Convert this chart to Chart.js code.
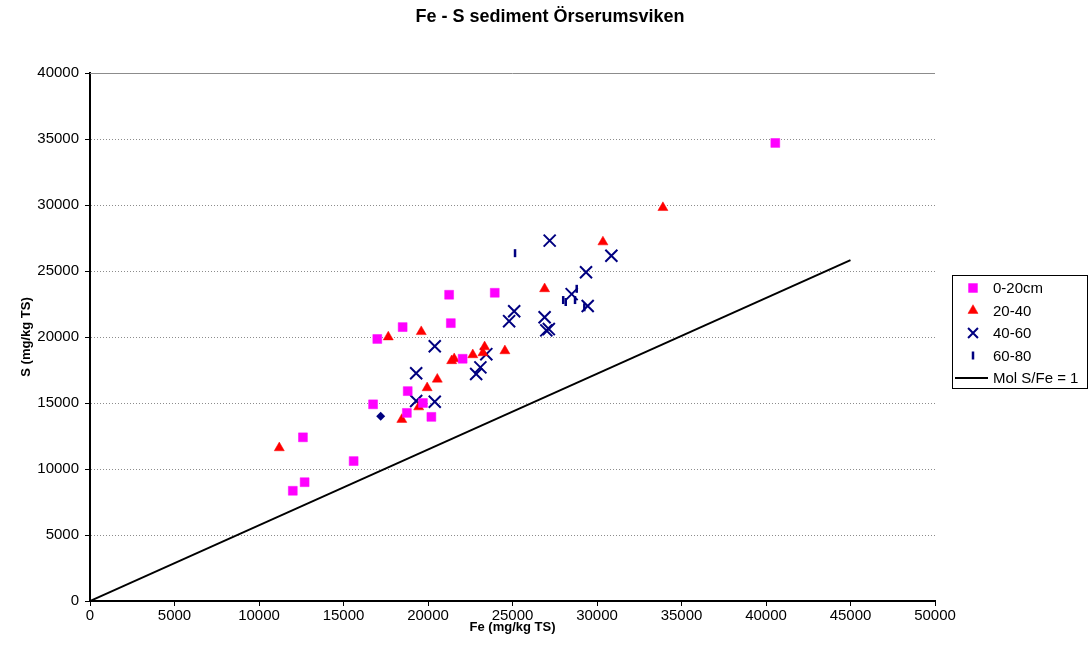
<!DOCTYPE html>
<html lang="sv">
<head>
  <meta charset="UTF-8" />
  <title>Fe - S sediment Örserumsviken</title>
  <style>
    body {
      margin: 0;
      background-color: white;
      overflow: hidden;
    }
    #chart {
      display: block;
    }
  </style>
</head>
<body>
  <canvas id="chart" width="1089" height="666"></canvas>

  <script src="https://cdn.jsdelivr.net/npm/chart.js"></script>
  <script>
    // values, mg/kg TS
    const fe0_20 = [12000, 12700, 12600, 15600, 16750, 17000, 18500, 18800, 18750, 19700, 20200, 21250, 21350, 22050, 23950, 40550];
    const s0_20  = [8350, 9000, 12400, 10600, 14900, 19850, 20750, 15900, 14250, 15000, 13950, 23200, 21050, 18350, 23350, 34700];

    const fe20_40 = [11200, 17650, 19600, 18450, 19450, 19950, 20550, 21400, 21550, 22650, 23350, 23250, 24550, 26900, 30350, 33900];
    const s20_40  = [11600, 20000, 20400, 13750, 14700, 16150, 16800, 18200, 18350, 18650, 19250, 18800, 18950, 23650, 27200, 29800];

    const fe40_60 = [27200, 30850, 29350, 28500, 29450, 25100, 24800, 26900, 27000, 27150, 20400, 23450, 23100, 22850, 19300, 19300, 20400];
    const s40_60  = [27300, 26150, 24900, 23250, 22350, 21950, 21200, 21500, 20500, 20600, 19300, 18700, 17700, 17200, 17250, 15150, 15100];

    const fe60_80 = [25150, 28000, 28150, 28700, 28800, 29250];
    const s60_80  = [26350, 22800, 22650, 22800, 23650, 22250];

    // one dark diamond that is not in the legend
    const feOther = [17200];
    const sOther  = [14000];

    // Mol S/Fe = 1 reference line
    const feMol = [0, 45000];
    const sMol  = [0, 25830];

    const pts = (xs, ys) => xs.map((x, i) => ({ x: x, y: ys[i] }));

    const FONT = "'Liberation Sans', Arial, sans-serif";

    const datasets = [
      {
        label: 'Mol S/Fe = 1',
        data: pts(feMol, sMol),
        showLine: true,
        pointRadius: 0,
        borderColor: '#000000',
        borderWidth: 2,
        fill: false
      },
      {
        label: '0-20cm',
        data: pts(fe0_20, s0_20),
        pointStyle: 'rect',
        pointRadius: 6.3,
        backgroundColor: '#FF00FF',
        borderColor: '#FF00FF',
        borderWidth: 0.5
      },
      {
        label: '20-40',
        data: pts(fe20_40, s20_40),
        pointStyle: 'triangle',
        pointRadius: 5.8,
        backgroundColor: '#FF0000',
        borderColor: '#FF0000',
        borderWidth: 0.5
      },
      {
        label: '40-60',
        data: pts(fe40_60, s40_60),
        pointStyle: 'crossRot',
        pointRadius: 8.5,
        backgroundColor: '#000080',
        borderColor: '#000080',
        borderWidth: 2
      },
      {
        label: '60-80',
        data: pts(fe60_80, s60_80),
        pointStyle: 'line',
        pointRotation: 90,
        pointRadius: 4,
        backgroundColor: '#000080',
        borderColor: '#000080',
        borderWidth: 2.5
      },
      {
        label: '',
        data: pts(feOther, sOther),
        pointStyle: 'rectRot',
        pointRadius: 4.5,
        backgroundColor: '#000080',
        borderColor: '#000080',
        borderWidth: 0
      }
    ];

    // legend drawn in a box on the right, like the original
    const boxLegend = {
      id: 'boxLegend',
      afterDraw(chart) {
        const ctx = chart.ctx;
        const order = [1, 2, 3, 4, 0];
        const left = 952, top = 275, w = 135, h = 113;
        ctx.save();
        ctx.strokeStyle = '#000';
        ctx.lineWidth = 1;
        ctx.strokeRect(left + 0.5, top + 0.5, w, h);
        ctx.font = '15px ' + FONT;
        ctx.textBaseline = 'middle';
        ctx.textAlign = 'left';
        order.forEach((di, row) => {
          const ds = chart.data.datasets[di];
          const y = 288 + row * 22.5;
          if (ds.showLine) {
            ctx.strokeStyle = ds.borderColor;
            ctx.lineWidth = ds.borderWidth;
            ctx.beginPath();
            ctx.moveTo(955, y);
            ctx.lineTo(988, y);
            ctx.stroke();
          } else {
            ctx.fillStyle = ds.backgroundColor;
            ctx.strokeStyle = ds.borderColor;
            ctx.lineWidth = ds.borderWidth;
            Chart.helpers.drawPoint(ctx, {
              pointStyle: ds.pointStyle,
              rotation: ds.pointRotation || 0,
              radius: ds.pointStyle === 'crossRot' ? 7 : ds.pointRadius,
              borderWidth: ds.borderWidth
            }, 973, y);
          }
          ctx.fillStyle = '#000';
          ctx.fillText(ds.label, 993, y + 1);
        });
        ctx.restore();
      }
    };

    // the top grid line of the plot is solid grey in the original
    const topLine = {
      id: 'topLine',
      beforeDatasetsDraw(chart) {
        const a = chart.chartArea;
        const ctx = chart.ctx;
        ctx.save();
        ctx.strokeStyle = '#8c8c8c';
        ctx.lineWidth = 1;
        ctx.beginPath();
        ctx.moveTo(a.left, Math.round(a.top) + 0.5);
        ctx.lineTo(a.right, Math.round(a.top) + 0.5);
        ctx.stroke();
        ctx.restore();
      }
    };

    const chart = new Chart(document.getElementById('chart').getContext('2d'), {
      type: 'scatter',
      data: { datasets: datasets },
      options: {
        responsive: false,
        animation: false,
        events: [],
        layout: { padding: { left: 11, right: 0, top: 0, bottom: 0 } },
        plugins: {
          legend: { display: false },
          tooltip: { enabled: false },
          title: {
            display: true,
            text: 'Fe - S sediment Örserumsviken',
            color: '#000',
            font: { family: FONT, size: 18, weight: 'bold' },
            padding: { top: 6, bottom: 45.4 }
          }
        },
        scales: {
          x: {
            type: 'linear',
            min: 0,
            max: 50000,
            ticks: {
              stepSize: 5000,
              color: '#000',
              font: { family: FONT, size: 15 },
              padding: 1,
              maxRotation: 0,
              autoSkip: false,
              callback: v => String(v)
            },
            grid: { drawOnChartArea: false, drawTicks: true, tickLength: 5, tickColor: '#000', tickWidth: 1 },
            border: { display: true, color: '#000', width: 2 },
            title: {
              display: true,
              text: 'Fe (mg/kg TS)',
              color: '#000',
              font: { family: FONT, size: 13, weight: 'bold' },
              padding: { top: 0, bottom: 31 }
            },
            afterFit(scale) { scale.height = 65; }
          },
          y: {
            type: 'linear',
            min: 0,
            max: 40000,
            ticks: {
              stepSize: 5000,
              color: '#000',
              font: { family: FONT, size: 15 },
              padding: 6,
              callback: v => String(v)
            },
            grid: { color: '#8c8c8c', lineWidth: 1, drawTicks: true, tickLength: 5, tickColor: '#000', tickWidth: 1 },
            border: { display: true, color: '#000', width: 2, dash: [1, 2] },
            title: {
              display: true,
              text: 'S (mg/kg TS)',
              color: '#000',
              font: { family: FONT, size: 13, weight: 'bold' },
              padding: { top: 8, bottom: 0 }
            },
            afterFit(scale) { scale.width = 79; }
          },
          // empty space on the right where the legend box sits
          legendSpace: {
            type: 'linear',
            position: 'right',
            display: true,
            ticks: { display: false },
            grid: { display: false, drawTicks: false },
            border: { display: false },
            afterFit(scale) { scale.width = 154; }
          }
        }
      },
      plugins: [topLine, boxLegend]
    });
  </script>
</body>
</html>
